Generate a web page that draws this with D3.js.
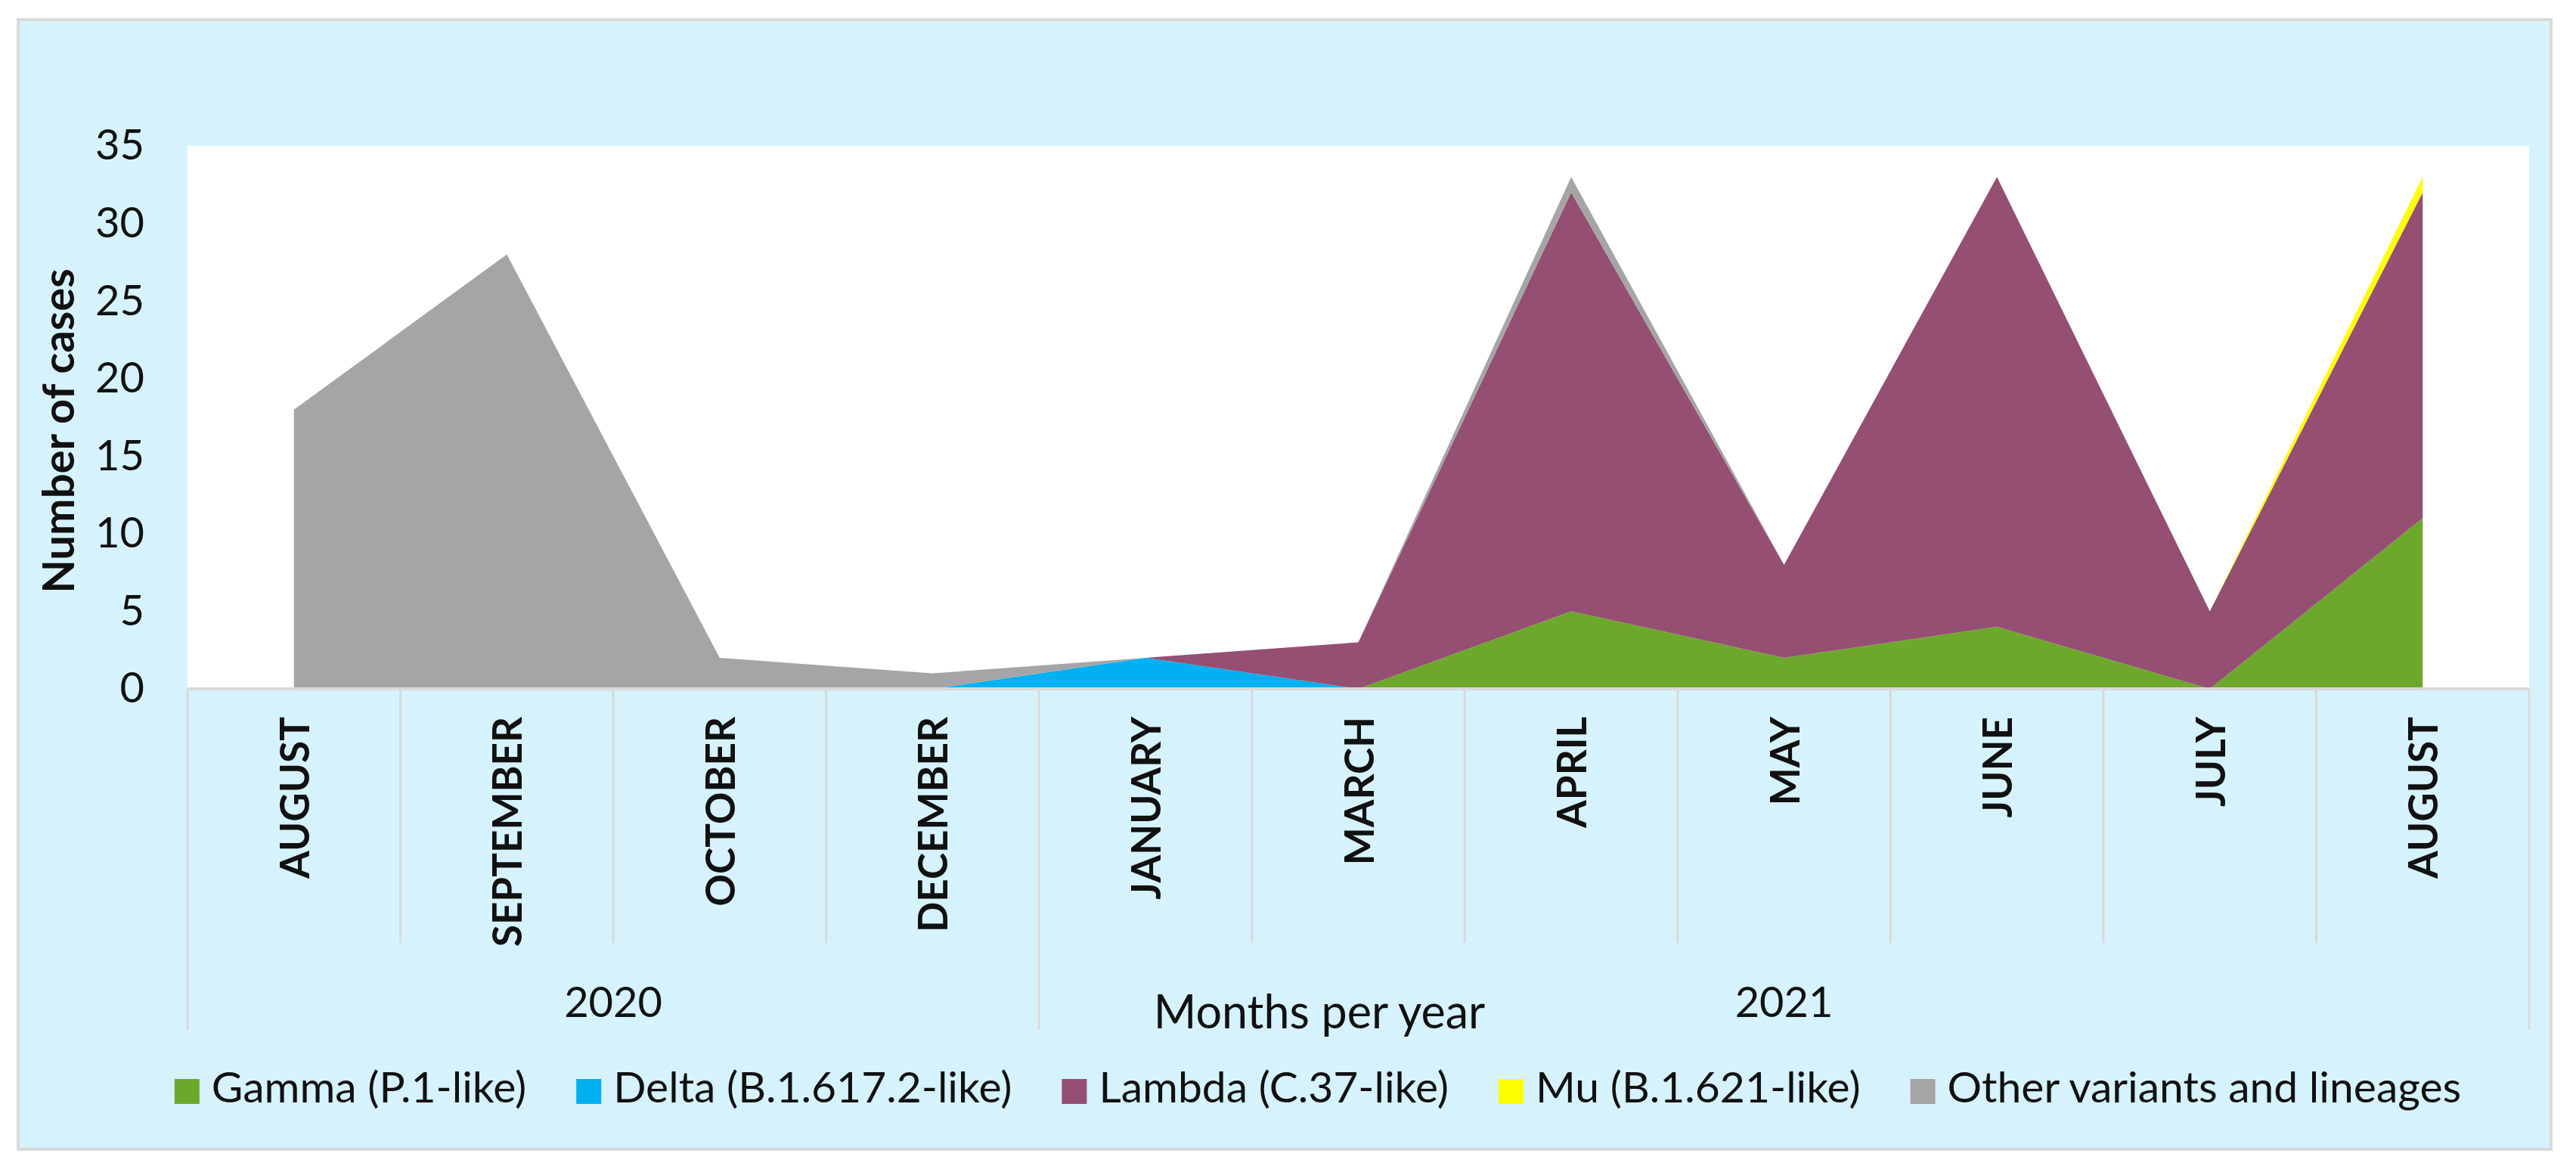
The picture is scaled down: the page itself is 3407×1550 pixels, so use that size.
<!DOCTYPE html>
<html><head><meta charset="utf-8">
<script src="https://cdn.jsdelivr.net/npm/d3@7"></script>
<style>html,body{margin:0;padding:0;background:#fff;} svg{display:block;}</style>
</head><body>
<svg id="chart" width="3407" height="1550"></svg>
<script>
// ---------- data ----------
const months = ["AUGUST","SEPTEMBER","OCTOBER","DECEMBER","JANUARY","MARCH","APRIL","MAY","JUNE","JULY","AUGUST"];
const monthYear = ["2020","2020","2020","2020","2021","2021","2021","2021","2021","2021","2021"];
const seriesNames = ["Gamma (P.1-like)","Delta (B.1.617.2-like)","Lambda (C.37-like)","Mu (B.1.621-like)","Other variants and lineages"];
const gamma  = [0,0,0,0,0,0,5,2,4,0,11];
const delta  = [0,0,0,0,2,0,0,0,0,0,0];
const lambda = [0,0,0,0,0,3,27,6,29,5,21];
const mu     = [0,0,0,0,0,0,0,0,0,0,1];
const other  = [18,28,2,1,0,0,1,0,0,0,0];
const yTicks = [0,5,10,15,20,25,30,35];
const yTitle = "Number of cases";
const xTitle = "Months per year";

// ---------- style ----------
const colors = ["#6DA82C","#00B0F0","#954F72","#FFFF00","#A5A5A5"];
const FONT = "Lato, 'Open Sans', sans-serif";
const bg = "#D6F3FD", gridC = "#D9D9D9";

const svg = d3.select("#chart");
const L = 248, R = 3345, T = 193, B = 911;

// frame
svg.append("rect").attr("x",24).attr("y",26).attr("width",3350).attr("height",1494)
  .attr("fill",bg).attr("stroke",gridC).attr("stroke-width",4);
// plot area
svg.append("rect").attr("x",L).attr("y",T).attr("width",R-L).attr("height",B-T).attr("fill","#fff");

const x = d3.scaleBand().domain(d3.range(months.length)).range([L,R]).padding(0);
const xc = i => x(i) + x.bandwidth()/2;
const y = d3.scaleLinear().domain([0,35]).range([B,T]);

const series = [gamma, delta, lambda, mu, other];
const rows = months.map((m,i) => {
  const r = {i};
  seriesNames.forEach((s,k) => r[s] = series[k][i]);
  return r;
});
const stacked = d3.stack().keys(seriesNames)(rows);
const area = d3.area().x(d => xc(d.data.i)).y0(d => y(d[0])).y1(d => y(d[1]));

svg.append("g").selectAll("path").data(stacked).join("path")
  .attr("d", area).attr("fill", (d,k) => colors[k]);

// y axis
const ya = svg.append("g").attr("transform",`translate(${L},0)`)
  .call(d3.axisLeft(y).tickValues(yTicks).tickSize(0).tickPadding(57));
ya.select(".domain").remove();
ya.selectAll("text").attr("font-family",FONT).attr("font-size",56).attr("fill","#111");

// x axis labels
const xa = svg.append("g").attr("transform",`translate(0,${B})`)
  .call(d3.axisBottom(x).tickSize(0).tickFormat(i => months[i]));
xa.select(".domain").remove();
xa.selectAll("text").attr("transform","rotate(-90)").attr("text-anchor","end")
  .attr("x",-37).attr("y",20).attr("dy",0)
  .attr("font-family",FONT).attr("font-size",53).attr("font-weight","bold").attr("fill","#111");

// separators
const sep = svg.append("g").attr("stroke",gridC).attr("stroke-width",3);
d3.range(months.length+1).forEach(i => {
  const xx = i < months.length ? x(i) : R;
  const yearEdge = i === 0 || i === months.length || monthYear[i] !== monthYear[i-1];
  sep.append("line").attr("x1",xx).attr("x2",xx).attr("y1",B).attr("y2", yearEdge ? 1362 : 1247);
});
// axis line
svg.append("line").attr("x1",L).attr("x2",R).attr("y1",B).attr("y2",B)
  .attr("stroke",gridC).attr("stroke-width",4);

// year labels
const years = Array.from(new Set(monthYear));
years.forEach(yr => {
  const idx = d3.range(months.length).filter(i => monthYear[i] === yr);
  const cx = (x(idx[0]) + x(idx[idx.length-1]) + x.bandwidth())/2;
  svg.append("text").attr("x",cx).attr("y",1345).attr("text-anchor","middle")
    .attr("font-family",FONT).attr("font-size",56).attr("fill","#111").text(yr);
});

// axis titles
svg.append("text").attr("x",1745).attr("y",1360).attr("text-anchor","middle")
  .attr("font-family",FONT).attr("font-size",61).attr("fill","#111").text(xTitle);
svg.append("text").attr("transform","translate(98,570) rotate(-90)").attr("text-anchor","middle")
  .attr("font-family",FONT).attr("font-size",58).attr("font-weight","bold").attr("fill","#111").text(yTitle);

// legend
const lg = svg.append("g");
let cur = 0;
seriesNames.forEach((s,k) => {
  const g = lg.append("g");
  g.append("rect").attr("x",0).attr("y",1427).attr("width",33).attr("height",33).attr("fill",colors[k]);
  const t = g.append("text").attr("x",49).attr("y",1458).attr("font-family",FONT)
    .attr("font-size",57).attr("fill","#111").text(s);
  const w = 49 + t.node().getComputedTextLength();
  g.attr("transform",`translate(${cur},0)`);
  cur += w + 66;
});
const total = cur - 66;
lg.attr("transform",`translate(${1743 - total/2},0)`);
</script>
</body></html>
